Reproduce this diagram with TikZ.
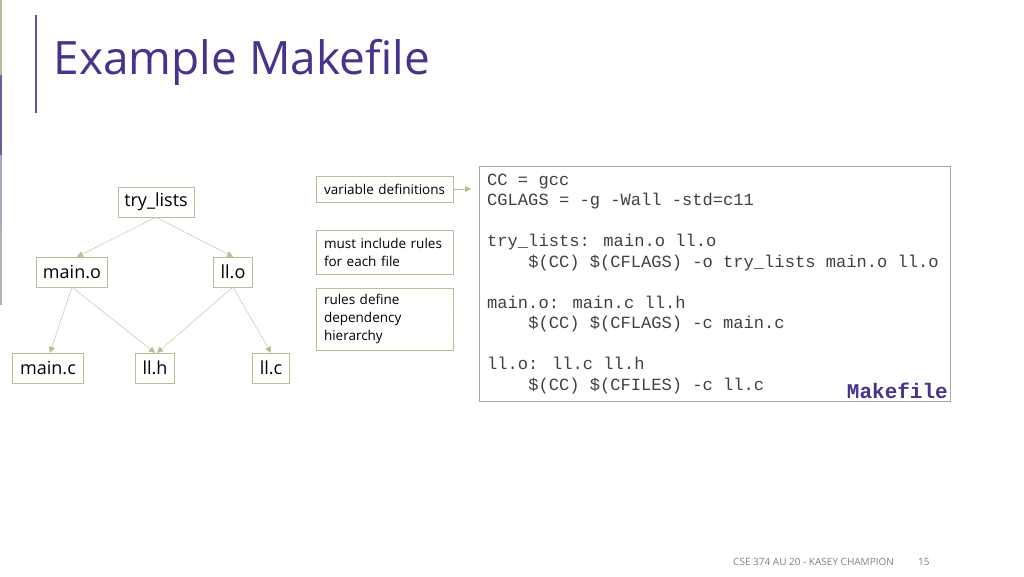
\documentclass[tikz,border=0pt]{standalone}
\usepackage{fontspec}
\setmainfont{Open Sans}
\newfontfamily\codefont{Liberation Mono}
\usetikzlibrary{arrows.meta,positioning}
\definecolor{olive}{RGB}{190,185,150}
\definecolor{titlepurple}{RGB}{72,50,140}
\tikzset{
  file/.style={draw=olive,fill=white,inner sep=0pt,minimum height=30pt,font=\fontsize{18}{18}\selectfont},
  note/.style={draw=olive,inner sep=0pt,minimum width=137pt,text width=122pt,align=left,font=\fontsize{13.5}{18}\selectfont},
  dep/.style={draw=olive,-{Triangle[length=6pt,width=6pt]}},
  code/.style={anchor=base west,inner sep=0pt,font=\codefont\fontsize{17.1}{17.1}\selectfont,text=black!75}
}
\begin{document}
\begin{tikzpicture}[x=1pt,y=-1pt]
\useasboundingbox (0,0) rectangle (1024,576);
% slide decoration
\fill[olive] (0,0) rectangle (1.5,75);
\fill[titlepurple!80] (0,75) rectangle (1.5,155);
\fill[titlepurple!45] (0,155) rectangle (1.5,230);
\fill[gray!60] (0,230) rectangle (1.5,305);
\draw[titlepurple!85,line width=1.5pt] (36,15) -- (36,113);
\node[anchor=west,text=titlepurple,font=\fontsize{46}{46}\selectfont] (title) at (50,62) {Example Makefile};
% dependency tree
\node[file,minimum width=76pt] (tl) at (156,202) {try\_lists};
\node[file,minimum width=71pt] (mo) at (72,272) {main.o};
\node[file,minimum width=39pt] (lo) at (233,272) {ll.o};
\node[file,minimum width=71pt] (mc) at (48,368) {main.c};
\node[file,minimum width=39pt] (lh) at (155,368) {ll.h};
\node[file,minimum width=37pt] (lc) at (271,368) {ll.c};
\draw[dep] (tl.south) -- ([xshift=5pt]mo.north);
\draw[dep] (tl.south) -- (lo.north);
\draw[dep] (mo.south) -- ([xshift=2pt]mc.north);
\draw[dep] (mo.south) -- (lh.north);
\draw[dep] (lo.south) -- ([xshift=2pt]lh.north);
\draw[dep] (lo.south) -- (lc.north);
% notes
\node[note,minimum height=26pt] (vars) at (385,189) {variable definitions};
\node[note,minimum height=44pt] (rules) at (385,252) {must include rules\\for each file};
\node[note,minimum height=62pt] (hier) at (385,319) {rules define\\dependency\\hierarchy};
\coordinate (varsend) at (471,189);
\draw[dep] (vars.east) -- (varsend);
% makefile
\draw[draw=gray!70,fill=white] (479,166) rectangle (950,401);
\node[code] (l1) at (487,185) {CC = gcc};
\node[code] (l2) at (487,205.5) {CGLAGS = -g -Wall -std=c11};
\node[code] (l3) at (487,246.5) {try\_lists: main.o ll.o};
\node[code] (l4) at (487,267) {\ \ \ \ \$(CC) \$(CFLAGS) -o try\_lists main.o ll.o};
\node[code] (l5) at (487,308) {main.o: main.c ll.h};
\node[code] (l6) at (487,328.5) {\ \ \ \ \$(CC) \$(CFLAGS) -c main.c};
\node[code] (l7) at (487,369.5) {ll.o: ll.c ll.h};
\node[code] (l8) at (487,390) {\ \ \ \ \$(CC) \$(CFILES) -c ll.c};
\node[anchor=base east,inner sep=0pt,text=titlepurple,font=\codefont\bfseries\fontsize{21}{21}\selectfont] (mk) at (948,398) {Makefile};
% footer
\node[anchor=west,inner sep=0pt,text=gray,font=\fontsize{10}{10}\selectfont] (foot) at (733,562) {CSE 374 AU 20 - KASEY CHAMPION};
\node[anchor=west,inner sep=0pt,text=gray,font=\fontsize{10}{10}\selectfont] (page) at (918,562) {15};
\end{tikzpicture}
\end{document}
